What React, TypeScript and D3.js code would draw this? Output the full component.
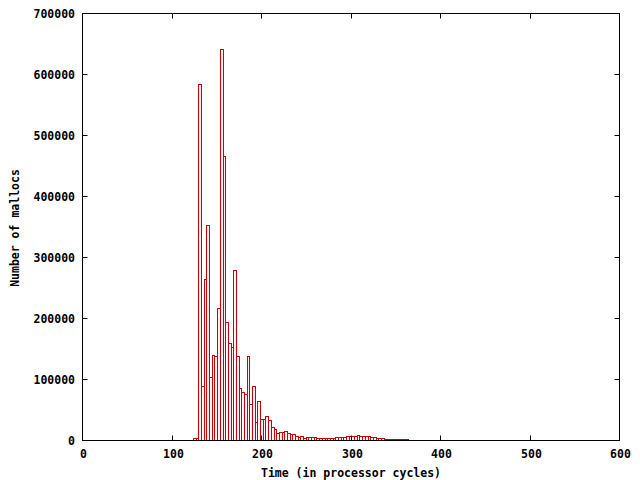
import React from 'react';
import * as d3 from 'd3';

// histogram bins: left edge (cycles) and number of mallocs in the bin
const binLefts = [
  124, 127, 130, 133, 136, 139, 142, 145, 148, 151, 154, 157, 160, 163, 166, 169,
  172, 175, 178, 181, 184, 187, 190, 193, 196, 199, 202, 205, 208, 211, 214, 217,
  220, 223, 226, 229, 232, 235, 238, 241, 244, 247, 250, 253, 256, 259, 262, 265,
  268, 271, 274, 277, 280, 283, 286, 289, 292, 295, 298, 301, 304, 307, 310, 313,
  316, 319, 322, 325, 328, 331, 334, 337, 340, 343, 346, 349, 352, 355, 358, 361,
];
const mallocCounts = [
  3000, 3000, 584000, 88000, 264000, 353000, 104000, 139000, 137000, 216000, 641000, 465000, 194000, 159000, 152000, 278000,
  138000, 85000, 79000, 75000, 138000, 59000, 88000, 30000, 64000, 34000, 34000, 39000, 32000, 21000, 17500, 11000,
  12500, 13500, 14500, 11000, 10000, 10000, 6500, 5500, 6500, 3000, 5500, 4500, 4500, 4500, 3000, 3000,
  3000, 2500, 2500, 3000, 4000, 4500, 4500, 4500, 5000, 6500, 7000, 7000, 7000, 7500, 7000, 7000,
  6500, 6000, 5000, 4500, 4000, 3000, 2500, 2000, 2000, 2000, 1500, 1500, 1500, 1500, 1500, 1000,
];
const binWidth = 3;
const xTicks = [0, 100, 200, 300, 400, 500, 600];
const yTicks = [0, 100000, 200000, 300000, 400000, 500000, 600000, 700000];

const W = 640;
const H = 480;
const left = 82.5;
const right = 619.5;
const top = 13.5;
const bottom = 440.5;
const font = "'DejaVu Sans Mono', monospace";

const App: React.FC = () => {
  const x = d3.scaleLinear().domain([0, 600]).range([left, right]);
  const y = d3.scaleLinear().domain([0, 700000]).range([bottom, top]);
  const snap = (v: number) => Math.round(v - 0.5) + 0.5;
  const tick = 5;

  return (
    <svg
      width={W}
      height={H}
      style={{ position: 'absolute', left: 0, top: 0, background: '#fff' }}
      fontFamily={font}
      fontWeight="bold"
      fontSize={11.5}
    >
      <rect x={0} y={0} width={W} height={H} fill="#fff" />

      {binLefts.map((b, i) => {
        const x0 = snap(x(b));
        const x1 = snap(x(b + binWidth));
        const yt = snap(y(mallocCounts[i]));
        return (
          <rect
            key={b}
            x={x0}
            y={Math.min(yt, bottom)}
            width={x1 - x0}
            height={Math.max(bottom - yt, 0)}
            fill="#fff4f4"
            stroke="#cc0000"
            strokeWidth={1}
          />
        );
      })}

      {/* ticks, mirrored on all sides */}
      {yTicks.map((t) => {
        const yy = snap(y(t));
        return (
          <g key={'y' + t}>
            {t > 0 && t < 700000 && (
              <>
                <line x1={left} x2={left + tick} y1={yy} y2={yy} stroke="#000" />
                <line x1={right} x2={right - tick} y1={yy} y2={yy} stroke="#000" />
              </>
            )}
            <text x={75} y={yy} textAnchor="end" dominantBaseline="central">
              {t}
            </text>
          </g>
        );
      })}
      {xTicks.map((t) => {
        const xx = snap(x(t));
        return (
          <g key={'x' + t}>
            {t > 0 && t < 600 && (
              <>
                <line x1={xx} x2={xx} y1={bottom} y2={bottom - tick} stroke="#000" />
                <line x1={xx} x2={xx} y1={top} y2={top + tick} stroke="#000" />
              </>
            )}
            <text x={xx + 1} y={454} textAnchor="middle" dominantBaseline="central">
              {t}
            </text>
          </g>
        );
      })}

      <rect x={left} y={top} width={right - left} height={bottom - top} fill="none" stroke="#000" />

      <text x={351} y={473} textAnchor="middle" dominantBaseline="central">
        Time (in processor cycles)
      </text>
      <text
        transform="translate(15,228) rotate(-90)"
        textAnchor="middle"
        dominantBaseline="central"
      >
        Number of mallocs
      </text>
    </svg>
  );
};

export default App;
